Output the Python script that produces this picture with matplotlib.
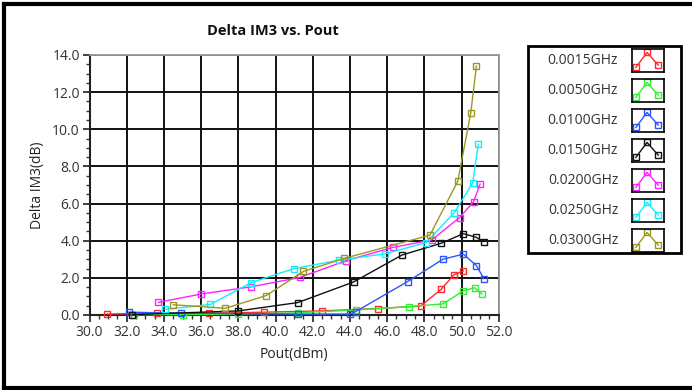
import matplotlib
matplotlib.use('Agg')
import matplotlib.pyplot as plt
from matplotlib.ticker import MultipleLocator, FormatStrFormatter
from matplotlib.patches import Rectangle
from matplotlib.lines import Line2D

plt.rcParams['font.family'] = ['Open Sans', 'DejaVu Sans']

# series (Pout dBm, Delta IM3 dB)
labels = ['0.0015GHz', '0.0050GHz', '0.0100GHz', '0.0150GHz',
          '0.0200GHz', '0.0250GHz', '0.0300GHz']
colors = ['#ff2a2a', '#33ee33', '#2a55ff', '#111111',
          '#ff22ff', '#11eeff', '#999922']

x_0015 = [30.95, 33.6, 36.4, 39.4, 42.5, 45.5, 47.8, 48.9, 49.6, 50.1]
y_0015 = [0.05, 0.1, 0.1, 0.15, 0.22, 0.35, 0.48, 1.38, 2.17, 2.37]
x_0050 = [32.4, 35.0, 38.0, 41.2, 44.3, 47.2, 49.0, 50.1, 50.7, 51.1]
y_0050 = [0.02, 0.02, 0.05, 0.12, 0.27, 0.45, 0.6, 1.3, 1.47, 1.13]
x_0100 = [32.1, 34.9, 41.2, 44.0, 44.3, 47.1, 49.0, 50.1, 50.8, 51.2]
y_0100 = [0.15, 0.1, 0.05, 0.05, 0.18, 1.8, 3.0, 3.28, 2.66, 1.96]
x_0150 = [32.3, 38.0, 41.2, 44.2, 46.8, 48.9, 50.1, 50.8, 51.2]
y_0150 = [0.02, 0.22, 0.67, 1.78, 3.23, 3.86, 4.38, 4.18, 3.95]
x_0200 = [33.7, 36.0, 38.7, 41.3, 43.8, 46.3, 48.4, 49.9, 50.65, 51.0]
y_0200 = [0.68, 1.13, 1.52, 2.02, 2.93, 3.64, 4.04, 5.25, 6.1, 7.05]
x_0250 = [34.05, 36.5, 38.7, 41.0, 43.4, 45.9, 48.1, 49.6, 50.6, 50.9]
y_0250 = [0.3, 0.57, 1.75, 2.5, 2.95, 3.3, 3.9, 5.5, 7.1, 9.2]
x_0300 = [34.5, 37.3, 39.5, 41.5, 43.7, 48.3, 49.8, 50.5, 50.8]
y_0300 = [0.55, 0.36, 1.05, 2.35, 3.05, 4.3, 7.2, 10.9, 13.4]

xs = [x_0015, x_0050, x_0100, x_0150, x_0200, x_0250, x_0300]
ys = [y_0015, y_0050, y_0100, y_0150, y_0200, y_0250, y_0300]

W, H = 692, 390
fig = plt.figure(figsize=(W / 100, H / 100), dpi=100)

ax = fig.add_axes([89.6 / W, 75 / H, 409.1 / W, 260 / H])
for x, y, c in zip(xs, ys, colors):
    ax.plot(x, y, color=c, lw=1.0, marker='s', ms=5, mfc='none', mew=1.0,
            clip_on=False, zorder=3)

ax.set_xlim(30, 52)
ax.set_ylim(0, 14)
ax.xaxis.set_major_locator(MultipleLocator(2))
ax.xaxis.set_minor_locator(MultipleLocator(0.5))
ax.yaxis.set_major_locator(MultipleLocator(2))
ax.yaxis.set_minor_locator(MultipleLocator(0.5))
ax.xaxis.set_major_formatter(FormatStrFormatter('%.1f'))
ax.yaxis.set_major_formatter(FormatStrFormatter('%.1f'))
ax.grid(True, which='major', color='#111111', lw=1.4)
ax.set_axisbelow(True)
ax.tick_params(which='major', direction='out', length=5, width=1.3,
               labelsize=10, colors='#333333', pad=2)
ax.tick_params(which='minor', direction='out', length=3, width=1.0,
               colors='#333333')
for s in ['top', 'right']:
    ax.spines[s].set_color('#999999')
    ax.spines[s].set_linewidth(1.3)
for s in ['left', 'bottom']:
    ax.spines[s].set_color('#222222')
    ax.spines[s].set_linewidth(1.5)

ax.set_xlabel('Pout(dBm)', fontsize=10, color='#222222', labelpad=5)
ax.set_ylabel('Delta IM3(dB)', fontsize=10, color='#222222', labelpad=5)
fig.text(273 / W, 1 - 31 / H, 'Delta IM3 vs. Pout', ha='center', va='center',
         fontsize=10.5, fontweight='bold', color='#111111')

# legend panel
fig.patches.append(Rectangle((528 / W, 1 - 253 / H), 153 / W, 207 / H,
                             transform=fig.transFigure, fill=False,
                             ec='black', lw=2))
for i, (lab, c) in enumerate(zip(labels, colors)):
    yc = 60.5 + i * 30
    fig.text(583 / W, 1 - yc / H, lab, ha='center', va='center',
             fontsize=10, color='#333333')
    iax = fig.add_axes([632 / W, 1 - (yc + 11.5) / H, 32 / W, 23 / H])
    iax.plot([0.12, 0.47, 0.82], [0.2, 0.85, 0.3], color=c, lw=1.0,
             marker='s', ms=4, mfc='none', mew=1.0)
    iax.set_xlim(0, 1)
    iax.set_ylim(0, 1)
    iax.set_xticks([])
    iax.set_yticks([])
    for s in iax.spines.values():
        s.set_color('black')
        s.set_linewidth(1.2)

# window frame
fig.lines.append(Line2D([4 / W, 4 / W], [0, 1 - 4 / H],
                        transform=fig.transFigure, color='black', lw=3))
fig.lines.append(Line2D([4 / W, 1], [1 - 4 / H, 1 - 4 / H],
                        transform=fig.transFigure, color='black', lw=3))
fig.lines.append(Line2D([4 / W, 1], [2 / H, 2 / H],
                        transform=fig.transFigure, color='black', lw=3))

fig.savefig('out.png', dpi=100)
